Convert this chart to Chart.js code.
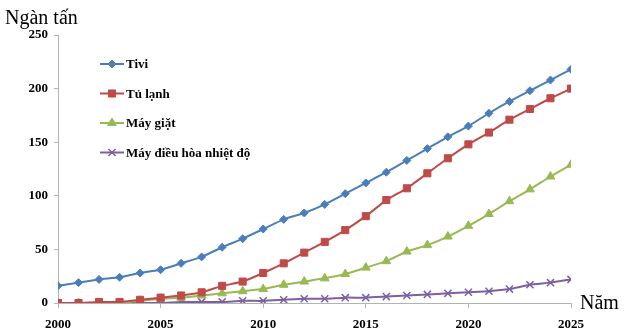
<!DOCTYPE html>
<html>
<head>
<meta charset="utf-8">
<script src="https://cdn.jsdelivr.net/npm/chart.js@4/dist/chart.umd.min.js"></script>
<style>
  html, body { margin: 0; padding: 0; background: #fff; }
  #wrap { width: 640px; height: 335px; position: relative; }
</style>
</head>
<body>
<div id="wrap"><canvas id="chart"></canvas></div>
<script>
const years = [2000, 2001, 2002, 2003, 2004, 2005, 2006, 2007, 2008, 2009, 2010, 2011, 2012,
               2013, 2014, 2015, 2016, 2017, 2018, 2019, 2020, 2021, 2022, 2023, 2024, 2025];
const tivi = [16, 19, 22, 24, 28, 31, 37, 43, 52, 60, 69, 78, 84, 92, 102, 112, 122, 133, 144, 155, 165, 177, 188, 198, 208, 218];
const tuLanh = [0, 0, 1, 1, 3, 5, 7, 10, 16, 20, 28, 37, 47, 57, 68, 81, 96, 107, 121, 135, 148, 159, 171, 181, 191, 200];
const mayGiat = [0, 0, 0, 0, 2, 4, 5, 7, 9, 11, 13, 17, 20, 23, 27, 33, 39, 48, 54, 62, 72, 83, 95, 106, 118, 129];
const dieuHoa = [0, 0, 0, 0, 0, 0, 1, 1, 1, 2, 2, 3, 4, 4, 5, 5, 6, 7, 8, 9, 10, 11, 13, 17, 19, 22];
const seriesNames = ['Tivi', 'Tủ lạnh', 'Máy giặt', 'Máy điều hòa nhiệt độ'];

const serif = "'Liberation Serif', 'Times New Roman', serif";
const axisGray = '#b3b3b3';

function pts(vals) {
    return years.map((y, i) => ({ x: y, y: vals[i] }));
}

function makeSet(label, vals, color, style, radius) {
    return {
        label: label,
        data: pts(vals),
        borderColor: color,
        backgroundColor: color,
        borderWidth: 2,
        pointStyle: style,
        pointRadius: radius,
        pointBorderColor: color,
        pointBackgroundColor: color,
        pointBorderWidth: style === 'crossRot' ? 1.5 : 1,
        tension: 0.15
    };
}

// legend inside the plot + axis captions
const extras = {
    id: 'extras',
    afterDraw(chart) {
        const ctx = chart.ctx;
        ctx.save();
        ctx.fillStyle = '#000';
        ctx.font = '20px ' + serif;
        ctx.textBaseline = 'alphabetic';
        ctx.textAlign = 'left';
        ctx.fillText('Ngàn tấn', 5, 24);
        ctx.fillText('Năm', 580, 309);

        const x0 = 100, y0 = 64, gap = 29.5;
        chart.data.datasets.forEach((ds, i) => {
            const y = y0 + i * gap;
            ctx.strokeStyle = ds.borderColor;
            ctx.fillStyle = ds.borderColor;
            ctx.lineWidth = 2;
            ctx.beginPath();
            ctx.moveTo(x0, y);
            ctx.lineTo(x0 + 24, y);
            ctx.stroke();
            ctx.lineWidth = ds.pointBorderWidth;
            Chart.helpers.drawPoint(ctx, {
                pointStyle: ds.pointStyle,
                radius: ds.pointRadius,
                borderWidth: ds.pointBorderWidth,
                rotation: 0
            }, x0 + 12, y);
            ctx.fillStyle = '#000';
            ctx.font = 'bold 13px ' + serif;
            ctx.textBaseline = 'middle';
            ctx.fillText(ds.label, x0 + 26, y + 1);
        });
        ctx.restore();
    }
};

new Chart(document.getElementById('chart').getContext('2d'), {
    type: 'line',
    data: {
        datasets: [
            makeSet(seriesNames[0], tivi, '#4a7ebb', 'rectRot', 4),
            makeSet(seriesNames[1], tuLanh, '#be4b48', 'rect', 5),
            makeSet(seriesNames[2], mayGiat, '#98b954', 'triangle', 5),
            makeSet(seriesNames[3], dieuHoa, '#7d60a0', 'crossRot', 5)
        ]
    },
    options: {
        responsive: true,
        maintainAspectRatio: false,
        animation: false,
        layout: { padding: { left: 0, top: 35, right: 69, bottom: 0 } },
        plugins: { legend: { display: false }, tooltip: { enabled: false } },
        scales: {
            x: {
                type: 'linear',
                min: 2000,
                max: 2025,
                afterFit(scale) { scale.height = 32; },
                ticks: {
                    stepSize: 5,
                    color: '#000',
                    font: { family: serif, size: 13, weight: 'bold' },
                    padding: 9,
                    maxRotation: 0,
                    callback: v => String(v)
                },
                grid: { drawOnChartArea: false, color: axisGray, tickLength: 5 },
                border: { color: axisGray, width: 1 }
            },
            y: {
                min: 0,
                max: 250,
                afterFit(scale) { scale.width = 58; },
                ticks: {
                    stepSize: 50,
                    color: '#000',
                    font: { family: serif, size: 13, weight: 'bold' },
                    padding: 6
                },
                grid: { drawOnChartArea: false, color: axisGray, tickLength: 4 },
                border: { color: axisGray, width: 1 }
            }
        }
    },
    plugins: [extras]
});
</script>
</body>
</html>
